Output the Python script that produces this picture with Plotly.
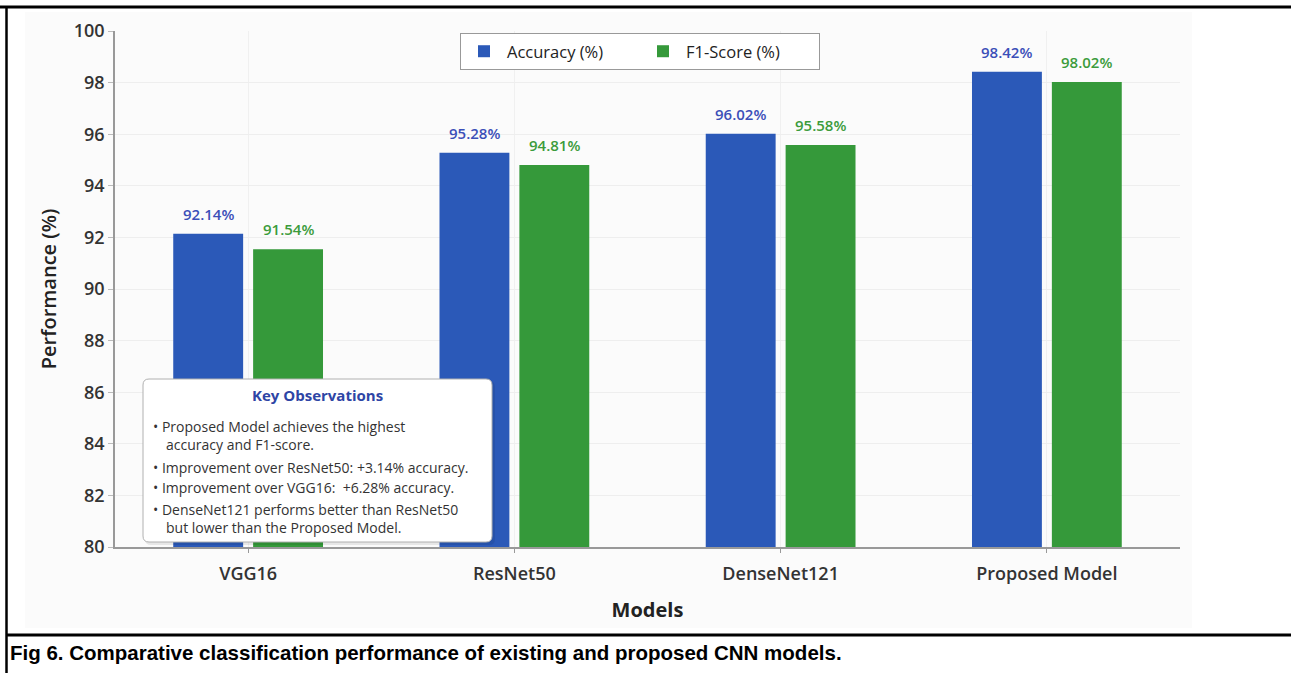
import plotly.graph_objects as go

models = ["VGG16", "ResNet50", "DenseNet121", "Proposed Model"]
accuracy = [92.14, 95.28, 96.02, 98.42]
f1_score = [91.54, 94.81, 95.58, 98.02]
y_ticks = [80, 82, 84, 86, 88, 90, 92, 94, 96, 98, 100]
observations = [
    "• Proposed Model achieves the highest",
    "   accuracy and F1-score.",
    "• Improvement over ResNet50: +3.14% accuracy.",
    "• Improvement over VGG16:  +6.28% accuracy.",
    "• DenseNet121 performs better than ResNet50",
    "   but lower than the Proposed Model.",
]
caption = "Fig 6. Comparative classification performance of existing and proposed CNN models."

W, H = 1291, 673
L, R, T, B = 115, 1180, 31, 547
FONT = "Open Sans"
BLUE = "#2b59b8"
GREEN = "#35993a"


def px(x):
    return (x - L) / (R - L)


def py(y):
    return (B - y) / (B - T)


def rounded_path(x0, y0, x1, y1, r):
    rx = r / (R - L)
    ry = r / (B - T)
    X0, X1 = px(x0), px(x1)
    Y0, Y1 = py(y1), py(y0)
    return (f"M {X0+rx},{Y0} L {X1-rx},{Y0} Q {X1},{Y0} {X1},{Y0+ry} "
            f"L {X1},{Y1-ry} Q {X1},{Y1} {X1-rx},{Y1} L {X0+rx},{Y1} "
            f"Q {X0},{Y1} {X0},{Y1-ry} L {X0},{Y0+ry} Q {X0},{Y0} {X0+rx},{Y0} Z")


fig = go.Figure()
fig.add_trace(go.Bar(name="Accuracy (%)", x=models, y=accuracy,
                     marker=dict(color=BLUE, line=dict(width=0))))
fig.add_trace(go.Bar(name="F1-Score (%)", x=models, y=f1_score,
                     marker=dict(color=GREEN, line=dict(width=0))))

annotations = []
for m, a, f in zip(models, accuracy, f1_score):
    annotations.append(dict(x=m, y=a, xref="x", yref="y", text=f"{a:.2f}%",
                            showarrow=False, xshift=-40, yshift=20,
                            font=dict(family=FONT, size=15, color="#3b4fb8", weight=600)))
    annotations.append(dict(x=m, y=f, xref="x", yref="y", text=f"{f:.2f}%",
                            showarrow=False, xshift=40, yshift=20,
                            font=dict(family=FONT, size=15, color="#3c9b3c", weight=600)))

annotations.append(dict(x=px(317), y=py(395), xref="paper", yref="paper",
                        text="Key Observations", showarrow=False,
                        xanchor="center", yanchor="middle",
                        font=dict(family=FONT, size=15, color="#2e45a5", weight=700)))
obs_y = [426, 444, 467, 487, 509, 527]
for t, yy in zip(observations, obs_y):
    xx = 151 if t.startswith("•") else 164
    annotations.append(dict(x=px(xx), y=py(yy), xref="paper", yref="paper",
                            text=t if t.startswith("•") else t.strip(),
                            showarrow=False, xanchor="left", yanchor="middle",
                            font=dict(family=FONT, size=14, color="#333333")))

annotations.append(dict(x=px(8), y=py(652), xref="paper", yref="paper",
                        text=caption, showarrow=False, xanchor="left", yanchor="middle",
                        font=dict(family="Liberation Sans, Arial", size=20.5, color="#000000", weight=700)))

shapes = [
    dict(type="rect", xref="paper", yref="paper", x0=px(25), x1=px(1192), y0=py(628), y1=py(12),
         fillcolor="#fbfbfb", line=dict(width=0), layer="below"),
    dict(type="path", xref="paper", yref="paper", path=rounded_path(145, 381, 495, 545, 6),
         fillcolor="rgba(0,0,0,0.08)", line=dict(width=0), layer="above"),
    dict(type="path", xref="paper", yref="paper", path=rounded_path(143, 379, 492, 542, 6),
         fillcolor="white", line=dict(color="#b0b0b0", width=1), layer="above"),
    dict(type="line", xref="paper", yref="paper", x0=px(0), x1=px(W), y0=py(7), y1=py(7),
         line=dict(color="black", width=3)),
    dict(type="line", xref="paper", yref="paper", x0=px(6.5), x1=px(6.5), y0=py(6), y1=py(H + 2),
         line=dict(color="black", width=2.5)),
    dict(type="line", xref="paper", yref="paper", x0=px(6), x1=px(W), y0=py(635), y1=py(635),
         line=dict(color="black", width=3)),
]

fig.update_layout(
    width=W, height=H,
    margin=dict(l=L, r=W - R, t=T, b=H - B, autoexpand=False),
    paper_bgcolor="white",
    plot_bgcolor="rgba(0,0,0,0)",
    barmode="group", bargap=0.4, bargroupgap=0.125,
    font=dict(family=FONT, color="#333333"),
    showlegend=True,
    legend=dict(orientation="h", x=px(640), xanchor="center", y=py(33), yanchor="top",
                bgcolor="white", bordercolor="#999999", borderwidth=1,
                font=dict(family=FONT, size=16.5, color="#222222"),
                itemwidth=36, entrywidth=128, traceorder="normal"),
    annotations=annotations,
    shapes=shapes,
    xaxis=dict(
        showline=True, linecolor="#999999", linewidth=1.5,
        ticks="outside", ticklen=4, tickcolor="#999999",
        showgrid=True, gridcolor="#f0f0f0", gridwidth=1,
        ticklabelstandoff=6,
        tickfont=dict(family=FONT, size=18, color="#333333", weight=600),
        title=dict(text="Models", standoff=19,
                   font=dict(family=FONT, size=20, color="#222222", weight=700)),
    ),
    yaxis=dict(
        range=[80, 100], tickvals=y_ticks,
        showline=True, linecolor="#999999", linewidth=1.5,
        ticks="outside", ticklen=5, tickcolor="#bbbbbb",
        showgrid=True, gridcolor="#eeeeee", gridwidth=1,
        zeroline=False,
        tickfont=dict(family=FONT, size=18, color="#333333", weight=600),
        title=dict(text="Performance (%)", standoff=12,
                   font=dict(family=FONT, size=20, color="#222222", weight=600)),
    ),
)

fig.write_html("out.html")
